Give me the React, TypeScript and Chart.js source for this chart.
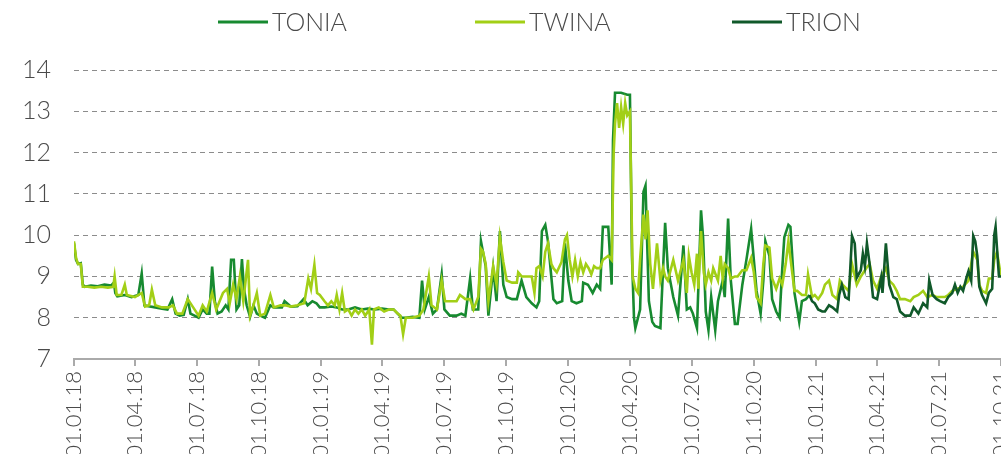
import React, { useEffect, useRef } from "react";
import { Chart, registerables } from "chart.js";

Chart.register(...registerables);

// x values are day offsets from 01.01.2018
const quarterDays = [0, 90, 181, 273, 365, 455, 546, 638, 730, 821, 912, 1004, 1096, 1186, 1277, 1369];
const quarterLabels = [
  "01.01.18", "01.04.18", "01.07.18", "01.10.18",
  "01.01.19", "01.04.19", "01.07.19", "01.10.19",
  "01.01.20", "01.04.20", "01.07.20", "01.10.20",
  "01.01.21", "01.04.21", "01.07.21", "01.10.21",
];

const toniaDays = [
  0, 3, 6, 10, 13, 16, 25, 35, 45, 55, 59, 61, 64, 75, 85, 95, 100, 104, 110, 120, 130, 138, 145, 150, 156, 162, 168, 172, 178, 184, 190, 196, 200, 204, 208, 212, 218, 224, 228, 232, 236, 240, 244, 248, 251, 255, 260, 265, 270, 275, 282, 290, 295, 307, 311, 320, 330, 339, 345, 352, 358, 363, 370, 380, 388, 396, 405, 415, 425, 434, 444, 455, 465, 472, 478, 484, 490, 500, 510, 514, 518, 524, 530, 536, 543, 547, 555, 565, 572, 578, 585, 589, 597, 601, 605, 608, 612, 619, 624, 629, 634, 639, 647, 654, 661, 668, 676, 683, 687, 691, 696, 700, 708, 713, 721, 725, 730, 735, 742, 750, 752, 759, 766, 772, 777, 781, 789, 794, 796, 799, 808, 817, 821, 824, 827, 829, 836, 841, 844, 849, 854, 858, 866, 873, 877, 885, 892, 900, 905, 910, 914, 920, 926, 929, 933, 937, 941, 944, 947, 951, 958, 961, 966, 970, 976, 980, 987, 993, 1000, 1004, 1008, 1014, 1018, 1021, 1027, 1031, 1037, 1042, 1046, 1049, 1055, 1058, 1064, 1068, 1071, 1075, 1081, 1086,
];
const toniaValues = [
  9.8, 9.4, 9.3, 9.32, 8.8, 8.75, 8.78, 8.76, 8.8, 8.78, 8.85, 8.6, 8.52, 8.55, 8.5, 8.55, 9.07, 8.3, 8.28, 8.25, 8.22, 8.2, 8.45, 8.1, 8.05, 8.07, 8.45, 8.1, 8.05, 8.0, 8.2, 8.1, 8.1, 9.24, 8.4, 8.1, 8.15, 8.3, 8.2, 9.4, 9.4, 8.2, 8.3, 9.42, 8.7, 8.3, 8.02, 8.3, 8.1, 8.05, 8.0, 8.3, 8.25, 8.25, 8.4, 8.27, 8.28, 8.45, 8.3, 8.4, 8.35, 8.25, 8.25, 8.27, 8.25, 8.2, 8.2, 8.25, 8.2, 8.22, 8.2, 8.22, 8.2, 8.2, 8.1, 8.0, 8.0, 8.02, 8.0, 8.9, 8.2, 8.5, 8.1, 8.2, 9.05, 8.2, 8.05, 8.05, 8.1, 8.05, 8.95, 8.2, 8.2, 9.85, 9.5, 9.25, 8.05, 9.2, 8.4, 10.1, 8.8, 8.5, 8.45, 8.45, 8.9, 8.5, 8.35, 8.25, 8.4, 10.1, 10.25, 9.85, 8.45, 8.35, 8.4, 9.8, 8.9, 8.4, 8.35, 8.4, 8.85, 8.8, 8.6, 8.8, 8.7, 10.2, 10.2, 8.8, 12.3, 13.45, 13.45, 13.4, 13.4, 9.5, 8.0, 7.75, 8.2, 11.05, 11.2, 8.4, 7.9, 7.8, 7.75, 10.3, 9.2, 8.5, 8.05, 9.75, 8.2, 8.25, 8.1, 7.75, 10.6, 9.95, 8.15, 7.7, 8.5, 8.1, 7.7, 8.4, 8.9, 8.5, 10.4, 8.9, 7.85, 7.85, 8.8, 9.4, 10.15, 9.4, 8.65, 8.1, 8.9, 9.85, 9.5, 8.45, 8.15, 8.0, 9.2, 9.95, 10.25, 10.2, 8.6, 8.2, 7.9, 8.4, 8.45, 8.55,
];

const twinaDays = [
  0, 3, 6, 10, 13, 20, 30, 40, 50, 58, 60, 63, 70, 75, 78, 90, 100, 105, 111, 115, 120, 130, 140, 146, 152, 160, 168, 176, 184, 190, 196, 204, 210, 220, 226, 230, 235, 240, 245, 250, 257, 260, 265, 270, 275, 282, 290, 295, 305, 312, 320, 330, 340, 346, 350, 355, 359, 363, 370, 375, 380, 385, 388, 392, 396, 400, 405, 410, 415, 420, 425, 430, 436, 440, 443, 450, 458, 465, 472, 478, 482, 486, 490, 500, 510, 516, 524, 528, 536, 543, 548, 555, 565, 570, 578, 585, 590, 597, 601, 604, 608, 612, 619, 624, 629, 634, 639, 647, 654, 656, 661, 668, 676, 680, 683, 687, 692, 696, 700, 705, 708, 713, 720, 725, 728, 732, 736, 740, 744, 748, 752, 756, 760, 764, 768, 772, 777, 781, 789, 794, 797, 799, 802, 805, 808, 811, 814, 817, 821, 825, 829, 833, 836, 841, 844, 847, 851, 855, 861, 866, 870, 873, 877, 885, 892, 900, 905, 908, 912, 916, 920, 922, 926, 930, 933, 937, 941, 944, 951, 955, 958, 961, 966, 970, 976, 980, 987, 993, 1000, 1004, 1008, 1014, 1018, 1021, 1027, 1031, 1037, 1042, 1046, 1051, 1055, 1058, 1064, 1068, 1075, 1081, 1084, 1090, 1094, 1099, 1105, 1109, 1115, 1120, 1127, 1131, 1135, 1144, 1149, 1156, 1162, 1170, 1175, 1180, 1186, 1192, 1199, 1204, 1210, 1215, 1220, 1227, 1235, 1240, 1247, 1254, 1260, 1268, 1274, 1286, 1291, 1297, 1305, 1313, 1321, 1328, 1334, 1337, 1341, 1347, 1351, 1356, 1359, 1363, 1369,
];
const twinaValues = [
  9.85, 9.45, 9.3, 9.3, 8.75, 8.75, 8.73, 8.75, 8.73, 8.75, 9.0, 8.55, 8.55, 8.8, 8.55, 8.5, 8.6, 8.27, 8.3, 8.68, 8.3, 8.25, 8.25, 8.3, 8.1, 8.1, 8.45, 8.25, 8.05, 8.3, 8.15, 8.6, 8.2, 8.6, 8.7, 8.35, 8.8, 8.45, 9.0, 8.4, 9.4, 8.05, 8.3, 8.6, 8.05, 8.1, 8.55, 8.25, 8.3, 8.3, 8.27, 8.3, 8.35, 8.95, 8.7, 9.28, 8.6, 8.55, 8.4, 8.3, 8.4, 8.3, 8.55, 8.2, 8.6, 8.15, 8.2, 8.05, 8.2, 8.1, 8.2, 8.05, 8.2, 7.35, 8.2, 8.25, 8.15, 8.2, 8.2, 8.1, 8.05, 7.6, 8.0, 8.0, 8.05, 8.2, 9.0, 8.3, 8.2, 8.9, 8.4, 8.4, 8.4, 8.55, 8.45, 8.45, 8.2, 8.5, 9.67, 9.6, 9.3, 8.4, 9.25, 8.8, 9.95, 9.35, 8.9, 8.85, 8.85, 9.1, 9.0, 9.0, 9.0, 8.6, 9.2, 9.25, 9.0, 9.6, 9.8, 9.3, 9.2, 9.1, 9.35, 9.9, 10.0, 9.4, 9.0, 9.4, 9.0, 9.35, 9.1, 9.3, 9.2, 9.05, 9.25, 9.2, 9.2, 9.4, 9.5, 9.4, 12.0, 12.7, 13.2, 12.6, 13.1, 12.7, 13.2, 12.9, 13.0, 9.0, 8.7, 8.6, 9.4, 10.5, 9.9, 10.6, 9.3, 8.7, 9.8, 8.9, 9.2, 9.0, 8.9, 9.4, 8.9, 9.4, 8.6, 9.5, 9.1, 8.8, 9.55, 8.7, 10.1, 9.1, 8.8, 9.1, 8.9, 9.2, 8.9, 9.5, 8.95, 9.3, 9.2, 8.95, 9.0, 9.0, 9.15, 9.15, 9.45, 9.1, 8.5, 8.35, 9.3, 9.75, 9.7, 8.95, 8.7, 8.95, 8.8, 9.3, 9.85, 9.45, 8.65, 8.65, 8.55, 8.55, 9.05, 8.5, 8.55, 8.45, 8.6, 8.8, 8.9, 8.55, 8.45, 8.9, 8.8, 8.65, 9.3, 8.8, 9.0, 9.2, 9.3, 8.9, 8.7, 9.0, 9.2, 8.9, 8.8, 8.65, 8.45, 8.45, 8.4, 8.5, 8.55, 8.65, 8.5, 8.55, 8.5, 8.5, 8.55, 8.65, 8.7, 8.75, 8.9, 9.6, 9.4, 8.8, 8.65, 8.6, 8.95, 8.95, 9.4, 9.6, 9.0,
];

const trionDays = [
  1086, 1090, 1094, 1099, 1105, 1109, 1115, 1120, 1127, 1130, 1134, 1139, 1144, 1149, 1153, 1156, 1162, 1165, 1168, 1171, 1175, 1180, 1186, 1192, 1194, 1199, 1204, 1210, 1215, 1220, 1227, 1235, 1240, 1247, 1254, 1260, 1263, 1268, 1274, 1279, 1286, 1291, 1297, 1301, 1305, 1309, 1313, 1318, 1321, 1325, 1328, 1331, 1334, 1337, 1341, 1347, 1351, 1356, 1359, 1361, 1363, 1366, 1369,
];
const trionValues = [
  8.55, 8.4, 8.35, 8.2, 8.15, 8.15, 8.3, 8.25, 8.15, 8.55, 8.8, 8.5, 8.45, 9.98, 9.8, 8.97, 9.15, 9.55, 9.25, 9.8, 9.3, 8.5, 8.45, 8.97, 8.6, 9.8, 8.8, 8.5, 8.45, 8.15, 8.05, 8.05, 8.25, 8.1, 8.35, 8.25, 8.9, 8.55, 8.45, 8.4, 8.35, 8.5, 8.6, 8.8, 8.6, 8.75, 8.65, 8.97, 9.13, 8.9, 9.98, 9.85, 9.5, 8.75, 8.55, 8.35, 8.6, 8.7, 10.0, 10.2, 9.7, 9.0, 9.0,
];

const seriesNames = ["TONIA", "TWINA", "TRION"];
const seriesColors = ["#178a30", "#a2cf16", "#10592a"];

const FONT = "Lato, 'Open Sans', sans-serif";
const TEXT_COLOR = "#4a4a4a";

const toPoints = (days: number[], values: number[]) => days.map((d, i) => ({ x: d, y: values[i] }));

const legendPlugin = {
  id: "customLegend",
  afterDraw(chart: any) {
    const { ctx, chartArea } = chart;
    ctx.save();
    ctx.font = `300 25px ${FONT}`;
    ctx.textBaseline = "middle";
    ctx.textAlign = "left";
    chart.data.datasets.forEach((ds: any, i: number) => {
      const x0 = chartArea.left + 144 + i * 257;
      const y = 22;
      ctx.strokeStyle = ds.borderColor;
      ctx.lineWidth = 3;
      ctx.beginPath();
      ctx.moveTo(x0, y);
      ctx.lineTo(x0 + 50, y);
      ctx.stroke();
      ctx.fillStyle = TEXT_COLOR;
      ctx.fillText(ds.label, x0 + 54, y + 1);
    });
    ctx.restore();
  },
};

export default function App() {
  const canvasRef = useRef<HTMLCanvasElement | null>(null);

  useEffect(() => {
    document.body.style.margin = "0";
    const canvas = canvasRef.current;
    if (!canvas) return;
    const chart = new Chart(canvas, {
      type: "line",
      data: {
        datasets: [
          {
            label: seriesNames[0],
            data: toPoints(toniaDays, toniaValues),
            borderColor: seriesColors[0],
            backgroundColor: seriesColors[0],
            borderWidth: 2.6,
            pointRadius: 0,
            order: 3,
          },
          {
            label: seriesNames[1],
            data: toPoints(twinaDays, twinaValues),
            borderColor: seriesColors[1],
            backgroundColor: seriesColors[1],
            borderWidth: 2.6,
            pointRadius: 0,
            order: 2,
          },
          {
            label: seriesNames[2],
            data: toPoints(trionDays, trionValues),
            borderColor: seriesColors[2],
            backgroundColor: seriesColors[2],
            borderWidth: 2.6,
            pointRadius: 0,
            order: 1,
          },
        ],
      },
      options: {
        animation: false,
        responsive: true,
        maintainAspectRatio: false,
        layout: { padding: { top: 70, left: 0, right: 0, bottom: 0 } },
        plugins: {
          legend: { display: false },
          tooltip: { enabled: false },
        },
        scales: {
          x: {
            type: "linear",
            min: 0,
            max: 1369,
            afterBuildTicks: (axis: any) => {
              axis.ticks = quarterDays.map((v) => ({ value: v }));
            },
            afterFit: (axis: any) => {
              axis.height = 95;
              axis.paddingLeft = 0;
              axis.paddingRight = 0;
            },
            ticks: {
              autoSkip: false,
              minRotation: 90,
              maxRotation: 90,
              padding: 5,
              color: TEXT_COLOR,
              font: { family: FONT, size: 22, weight: "300" },
              callback: (value: any) => {
                const idx = quarterDays.indexOf(Number(value));
                return idx >= 0 ? quarterLabels[idx] : "";
              },
            },
            grid: {
              drawOnChartArea: false,
              drawTicks: true,
              tickLength: 7,
              color: "#aaaaaa",
              lineWidth: 2,
            },
            border: { display: true, color: "#aaaaaa", width: 2 },
          },
          y: {
            min: 7,
            max: 14,
            afterFit: (axis: any) => {
              axis.width = 74;
            },
            ticks: {
              stepSize: 1,
              padding: 23,
              color: TEXT_COLOR,
              font: { family: FONT, size: 25, weight: "300" },
            },
            grid: {
              drawTicks: false,
              color: (c: any) => (c.tick && c.tick.value === 7 ? "rgba(0,0,0,0)" : "#8c8c8c"),
              lineWidth: 1,
              borderDash: [5, 4],
            } as any,
            border: { display: false, dash: [5, 4] },
          },
        },
      },
      plugins: [legendPlugin],
    });
    return () => chart.destroy();
  }, []);

  return (
    <div style={{ width: 1001, height: 454, overflow: "hidden", position: "relative" }}>
      <canvas ref={canvasRef} />
    </div>
  );
}
